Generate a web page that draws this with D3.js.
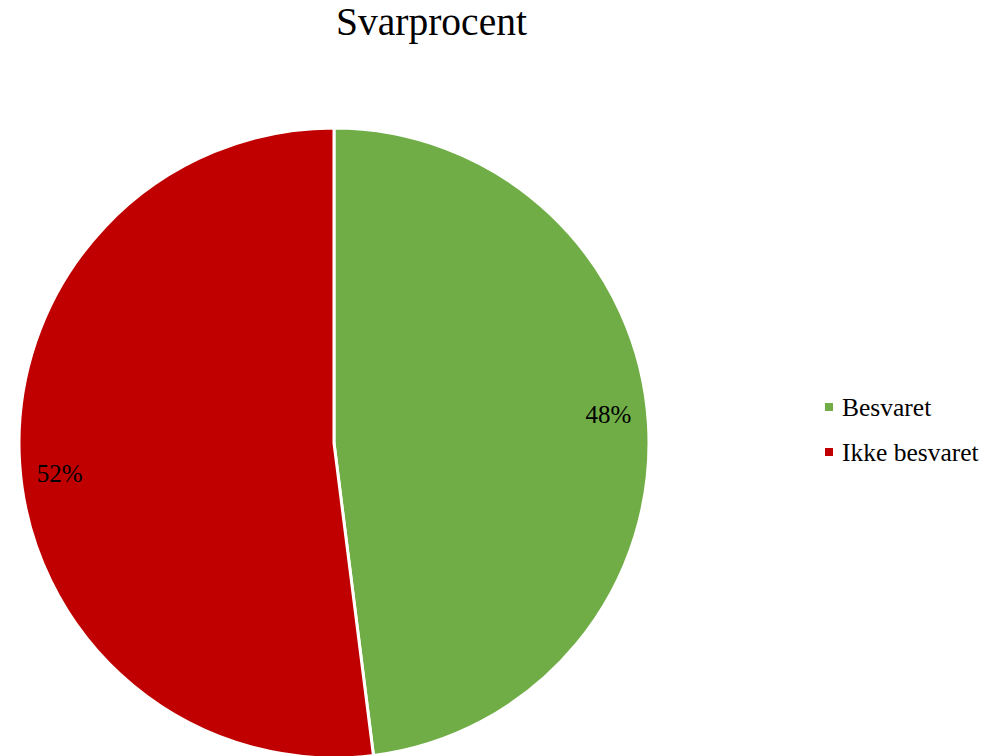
<!DOCTYPE html>
<html>
<head>
<meta charset="utf-8">
<script src="https://cdn.jsdelivr.net/npm/d3@7"></script>
<style>
  html, body { margin: 0; padding: 0; background: #fff; }
  svg { display: block; }
</style>
</head>
<body>
<svg id="chart" width="997" height="756"></svg>
<script>
const title = "Svarprocent";
const categories = ["Besvaret", "Ikke besvaret"];
const values = [48, 52];
const colors = ["#70AD47", "#C00000"];

const W = 997, H = 756;
const font = "'Liberation Serif', 'Times New Roman', serif";
const svg = d3.select("#chart");

svg.append("rect").attr("width", W).attr("height", H).attr("fill", "#fff");

svg.append("text")
  .attr("x", 431.5).attr("y", 35)
  .attr("text-anchor", "middle")
  .attr("font-family", font)
  .attr("font-size", 39.5)
  .attr("fill", "#000")
  .text(title);

const cx = 334, cy = 443, R = 315;
const pie = d3.pie().sort(null).value(d => d)(values);
const arc = d3.arc().innerRadius(0).outerRadius(R);
const g = svg.append("g").attr("transform", `translate(${cx},${cy})`);

g.selectAll("path.slice").data(pie).enter().append("path")
  .attr("class", "slice")
  .attr("d", arc)
  .attr("fill", (d, i) => colors[i])
  .attr("stroke", "#fff")
  .attr("stroke-width", 3)
  .attr("stroke-linejoin", "round");

// labels placed inside the outer edge (Excel best-fit style)
const labelArc = d3.arc().innerRadius(275).outerRadius(275);
const vNudge = [-11, 13];
g.selectAll("text.lbl").data(pie).enter().append("text")
  .attr("class", "lbl")
  .attr("x", d => labelArc.centroid(d)[0])
  .attr("y", (d, i) => labelArc.centroid(d)[1] + vNudge[i])
  .attr("text-anchor", "middle")
  .attr("dominant-baseline", "central")
  .attr("font-family", font)
  .attr("font-size", 25)
  .attr("fill", "#000")
  .text(d => Math.round(d.value / d3.sum(values) * 100) + "%");

// legend
const legY = d3.scalePoint().domain(categories).range([407, 452]);
const leg = svg.append("g");
categories.forEach((c, i) => {
  leg.append("rect")
    .attr("x", 825).attr("y", legY(c) - 4)
    .attr("width", 8).attr("height", 8)
    .attr("fill", colors[i]);
  leg.append("text")
    .attr("x", 842).attr("y", legY(c) + 9)
    .attr("font-family", font)
    .attr("font-size", 25.5)
    .attr("fill", "#000")
    .text(c);
});
</script>
</body>
</html>
